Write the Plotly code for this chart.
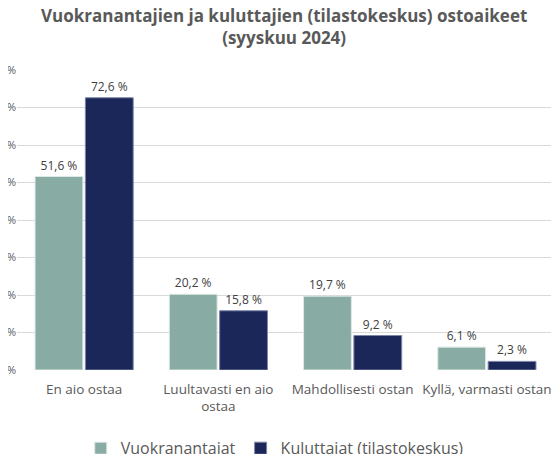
import plotly.graph_objects as go

# Kategoriat ja sarjat
categories = ["En aio ostaa", "Luultavasti en aio<br>ostaa", "Mahdollisesti ostan", "Kyllä, varmasti ostan"]
vuokranantajat = [51.6, 20.2, 19.7, 6.1]
kuluttajat = [72.6, 15.8, 9.2, 2.3]
y_ticks = [0, 10, 20, 30, 40, 50, 60, 70, 80]
y_tick_labels = [f"{t} %" for t in y_ticks]


def fmt(v):
    return f"{v:.1f} %".replace(".", ",")


fig = go.Figure()
fig.add_trace(go.Bar(
    x=categories, y=vuokranantajat, name="Vuokranantajat",
    marker=dict(color="#88ABA3", line=dict(color="#DDE8E5", width=1)),
    text=[fmt(v) for v in vuokranantajat], textposition="outside",
    textfont=dict(size=12, color="#404040"), cliponaxis=False,
))
fig.add_trace(go.Bar(
    x=categories, y=kuluttajat, name="Kuluttajat (tilastokeskus)",
    marker=dict(color="#1B2759", line=dict(color="#7D86A8", width=1)),
    text=[fmt(v) for v in kuluttajat], textposition="outside",
    textfont=dict(size=12, color="#404040"), cliponaxis=False,
))

# sivu siirtää kuvaa ~8 px oikealle ja alas, joten marginaalit on kompensoitu
# paper: t=62, b=0 -> korkeus 392 px, plot-alueen pohja 92 px alareunasta
fig.update_layout(
    width=559, height=454,
    margin=dict(l=9, r=13, t=62, b=0, autoexpand=False),
    paper_bgcolor="white", plot_bgcolor="white",
    font=dict(family="Open Sans", color="#595959", size=12),
    title=dict(
        text="Vuokranantajien ja kuluttajien (tilastokeskus) ostoaikeet<br>(syyskuu 2024)",
        x=0.494, xanchor="center", y=0.969, yanchor="top", automargin=False,
        font=dict(family="Open Sans", size=17, color="#595959", weight="bold"),
    ),
    barmode="group", bargap=0.25, bargroupgap=0.05,
    showlegend=True,
    legend=dict(
        orientation="h", x=0.48, xanchor="center", y=0.035, yanchor="middle",
        font=dict(size=16, color="#595959"), itemwidth=30,
    ),
)
fig.update_xaxes(
    showgrid=False, showline=False, ticks="",
    tickfont=dict(size=13.5, color="#595959"), automargin=False,
    ticklabelstandoff=9,
)
fig.update_yaxes(
    range=[0, 80], tickvals=y_ticks, ticktext=y_tick_labels,
    domain=[92 / 392, 1],
    showgrid=True, gridcolor="#D9D9D9", gridwidth=1,
    zeroline=False, showline=False, ticks="",
    tickfont=dict(size=11, color="#595959"), automargin=False,
    ticklabelstandoff=0,
)

fig.write_html("out.html")
